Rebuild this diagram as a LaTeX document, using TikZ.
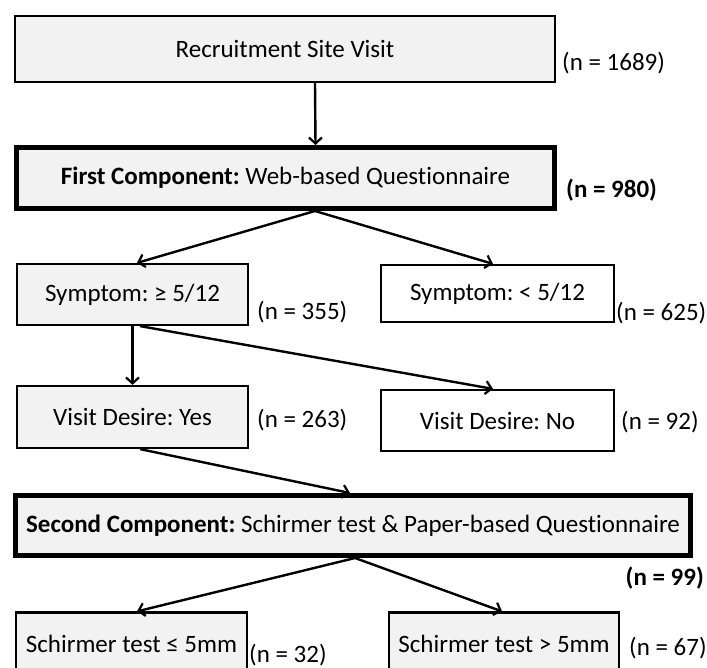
\documentclass[tikz,border=0pt]{standalone}
\usepackage{fontspec}
\setmainfont{Carlito}[Ligatures={NoCommon}]
\frenchspacing
\usetikzlibrary{arrows.meta}
\definecolor{boxgray}{HTML}{F2F2F2}
\tikzset{
  box/.style={draw=black, line width=2.2pt, fill=boxgray, rectangle, inner sep=0pt, align=center, font=\fontsize{25}{29}\selectfont\frenchspacing},
  thickbox/.style={box, line width=5pt},
  whitebox/.style={box, fill=white},
  nlabel/.style={inner sep=0pt, font=\fontsize{25}{29}\selectfont\frenchspacing},
  conn/.style={line width=2.4pt, -{Straight Barb[length=6pt,width=13pt,line width=2.2pt]}}
}
\begin{document}
\begin{tikzpicture}[x=1pt,y=-1pt]
\useasboundingbox (0,0) rectangle (707,668);
\clip (0,0) rectangle (707,668);
\fill[white] (0,0) rectangle (707,668);
% boxes
\node[box, minimum width=540pt, minimum height=66pt] (b1) at (285,49) {Recruitment Site Visit};
\node[thickbox, minimum width=538pt, minimum height=61pt] (b2) at (285.5,178) {\textbf{First Component:} Web-based Questionnaire};
\node[box, minimum width=231pt, minimum height=61pt] (b3) at (132.5,294.5) {Symptom: ≥ 5/12};
\node[whitebox, minimum width=233pt, minimum height=57pt] (b4) at (497.5,293.5) {Symptom: < 5/12};
\node[box, minimum width=231pt, minimum height=62pt] (b5) at (132.5,417) {Visit Desire: Yes};
\node[whitebox, minimum width=233pt, minimum height=61pt] (b6) at (497.5,420.5) {Visit Desire: No};
\node[thickbox, minimum width=675pt, minimum height=60pt] (b7) at (353,525.5) {\textbf{Second Component:} Schirmer test \& Paper-based Questionnaire};
\node[box, minimum width=231pt, minimum height=62pt] (b8) at (131.5,643.5) {Schirmer test ≤ 5mm};
\node[box, minimum width=230pt, minimum height=62pt] (b9) at (504,643.5) {Schirmer test > 5mm};
% labels
\node[nlabel, anchor=west] (l1) at (562,63) {(n = 1689)};
\node[nlabel, anchor=west] (l2) at (566,190) {\textbf{(n = 980)}};
\node[nlabel, anchor=west] (l3) at (257,312) {(n = 355)};
\node[nlabel, anchor=west] (l4) at (616,313) {(n = 625)};
\node[nlabel, anchor=west] (l5) at (257,420) {(n = 263)};
\node[nlabel, anchor=west] (l6) at (621,422) {(n = 92)};
\node[nlabel, anchor=east] (l7) at (704,578) {\textbf{(n = 99)}};
\node[nlabel, anchor=west] (l8) at (249,655) {(n = 32)};
\node[nlabel, anchor=west] (l9) at (629,648) {(n = 67)};
% connectors
\draw[conn] ([xshift=30pt]b1.south) -- ([xshift=30pt]b2.north);
\draw[conn] ([xshift=29.5pt]b2.south) -- ([xshift=4.5pt]b3.north);
\draw[conn] ([xshift=29.5pt]b2.south) -- ([xshift=-4.5pt]b4.north);
\draw[conn] (b3.south) -- (b5.north);
\draw[conn] ([xshift=7.5pt]b3.south) -- ([xshift=-4.5pt]b6.north);
\draw[conn] ([xshift=7.5pt]b5.south) -- ([xshift=-3pt]b7.north);
\draw[conn] ([xshift=2pt]b7.south) -- ([xshift=5.5pt]b8.north);
\draw[conn] ([xshift=2pt]b7.south) -- ([xshift=-2pt]b9.north);
\end{tikzpicture}
\end{document}
